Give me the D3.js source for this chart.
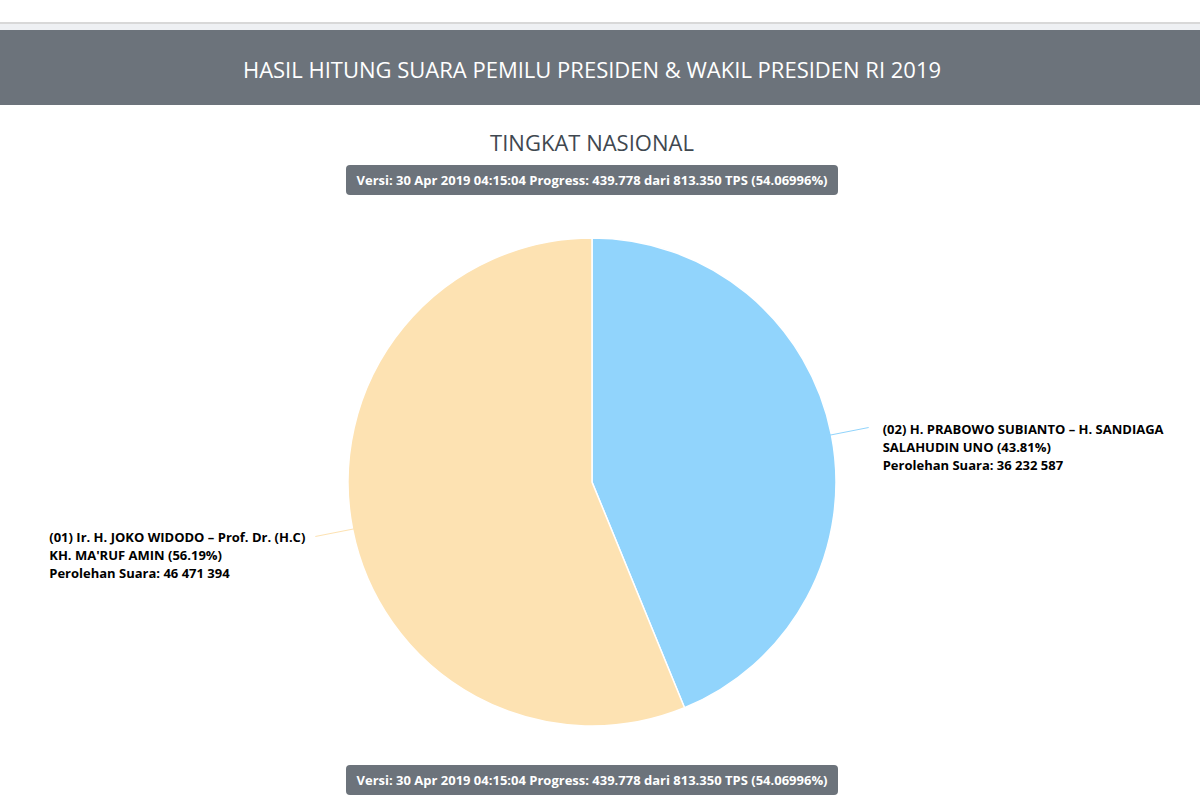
<!DOCTYPE html>
<meta charset="utf-8">
<style>
body { margin: 0; background: #fff; font-family: "Open Sans", sans-serif; }
.lbl { font-size: 13px; font-weight: bold; fill: #000; }
.badge text { font-size: 13px; font-weight: bold; fill: #fff; }
</style>
<body>
<script src="https://cdn.jsdelivr.net/npm/d3@7/dist/d3.min.js"></script>
<script>

// data
var candidates = ["(02) H. PRABOWO SUBIANTO – H. SANDIAGA SALAHUDIN UNO",
                  "(01) Ir. H. JOKO WIDODO – Prof. Dr. (H.C) KH. MA'RUF AMIN"];
var labelLines = [["(02) H. PRABOWO SUBIANTO – H. SANDIAGA", "SALAHUDIN UNO (43.81%)"],
                  ["(01) Ir. H. JOKO WIDODO – Prof. Dr. (H.C)", "KH. MA'RUF AMIN (56.19%)"]];
var votes = [36232587, 46471394];
var voteLabels = ["36 232 587", "46 471 394"];
var title = "HASIL HITUNG SUARA PEMILU PRESIDEN & WAKIL PRESIDEN RI 2019";
var subtitle = "TINGKAT NASIONAL";
var versi = "Versi: 30 Apr 2019 04:15:04 Progress: 439.778 dari 813.350 TPS (54.06996%)";

var W = 1200, H = 800;
var cx = 592, cy = 482, R = 244;

var color = d3.scaleOrdinal().domain(candidates).range(["#91d4fc", "#fde2b2"]);

var svg = d3.select("body").append("svg")
    .attr("width", W)
    .attr("height", H);

// top strip
svg.append("rect").attr("x", 0).attr("y", 0).attr("width", W).attr("height", 22).attr("fill", "#fff");
svg.append("rect").attr("x", 0).attr("y", 22).attr("width", W).attr("height", 2).attr("fill", "#d8d8d8");
svg.append("rect").attr("x", 0).attr("y", 24).attr("width", W).attr("height", 6).attr("fill", "#eef0f3");

// header band
svg.append("rect").attr("x", 0).attr("y", 30).attr("width", W).attr("height", 75).attr("fill", "#6c737b");
svg.append("text")
    .attr("x", cx).attr("y", 78)
    .attr("text-anchor", "middle")
    .attr("fill", "#fff")
    .style("font-size", "22px")
    .text(title);

svg.append("text")
    .attr("x", cx).attr("y", 151)
    .attr("text-anchor", "middle")
    .attr("fill", "#3f4850")
    .style("font-size", "22px")
    .text(subtitle);

function badge(y) {
  var g = svg.append("g").attr("class", "badge");
  g.append("rect")
    .attr("x", 346).attr("y", y).attr("width", 492).attr("height", 30)
    .attr("rx", 4).attr("fill", "#6c737b");
  g.append("text")
    .attr("x", cx).attr("y", y + 20)
    .attr("text-anchor", "middle")
    .text(versi);
}
badge(165);
badge(765);

// pie
var pie = d3.pie().sort(null).value(function(d) { return d; });
var arcs = pie(votes);
var arc = d3.arc().innerRadius(0).outerRadius(R);

var g = svg.append("g").attr("transform", "translate(" + cx + "," + cy + ")");

g.selectAll("path.slice")
    .data(arcs).enter()
    .append("path")
    .attr("class", "slice")
    .attr("d", arc)
    .attr("fill", function(d, i) { return color(candidates[i]); })
    .attr("stroke", "#fff")
    .attr("stroke-width", 1.5);

// connectors and labels
arcs.forEach(function(d, i) {
  var a = (d.startAngle + d.endAngle) / 2;
  var sx = Math.sin(a), sy = -Math.cos(a);
  var x1 = sx * (R - 4), y1 = sy * (R - 4);
  var x2 = sx * (R + 38), y2 = sy * (R + 38);
  g.append("line")
    .attr("x1", x1).attr("y1", y1).attr("x2", x2).attr("y2", y2)
    .attr("stroke", color(candidates[i]))
    .attr("stroke-width", 1);

  var lines = labelLines[i].concat(["Perolehan Suara: " + voteLabels[i]]);
  var t = g.append("text").attr("class", "lbl");
  lines.forEach(function(l, k) {
    t.append("tspan").attr("x", 0).attr("dy", k == 0 ? 0 : 18).text(l);
  });
  var w = 0;
  t.selectAll("tspan").each(function() { w = Math.max(w, this.getComputedTextLength()); });
  var tx = sx > 0 ? x2 + 14 : x2 - 10 - w;
  t.attr("transform", "translate(" + tx + "," + (y2 + 6) + ")");
});

</script>
</body>
